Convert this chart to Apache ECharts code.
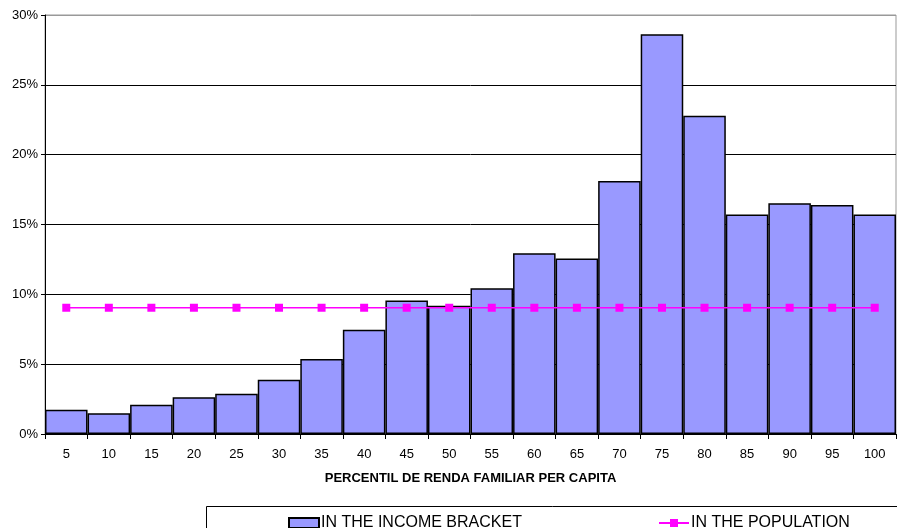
<!DOCTYPE html>
<html>
<head>
<meta charset="utf-8">
<script src="https://cdn.jsdelivr.net/npm/echarts@6/dist/echarts.min.js"></script>
<style>
  html, body { margin: 0; padding: 0; background: #fff; }
  #chart { width: 897px; height: 528px; }
</style>
</head>
<body>
<div id="chart"></div>
<script>
// Share of each income percentile bracket vs. share in the population.
const FONT = "'Liberation Sans', Arial, sans-serif";

const percentiles = ['5', '10', '15', '20', '25', '30', '35', '40', '45', '50',
  '55', '60', '65', '70', '75', '80', '85', '90', '95', '100'];
const inBracket = [1.73, 1.49, 2.09, 2.64, 2.88, 3.88, 5.37, 7.46, 9.55, 9.19,
  10.43, 12.94, 12.56, 18.11, 28.62, 22.78, 15.72, 16.53, 16.39, 15.72];
const inPopulation = [9.04, 9.04, 9.04, 9.04, 9.04, 9.04, 9.04, 9.04, 9.04, 9.04,
  9.04, 9.04, 9.04, 9.04, 9.04, 9.04, 9.04, 9.04, 9.04, 9.04];
const yTicks = ['0%', '5%', '10%', '15%', '20%', '25%', '30%'];

const BAR_NAME = 'IN THE INCOME BRACKET';
const LINE_NAME = 'IN THE POPULATION';

const chart = echarts.init(document.getElementById('chart'), null, { renderer: 'canvas' });

chart.setOption({
  animation: false,
  textStyle: { fontFamily: FONT, color: '#000' },
  grid: {
    left: 45, right: 1, top: 15, bottom: 94,
    show: true, borderColor: '#999', borderWidth: 1,
  },
  legend: [
    {
      data: [{ name: BAR_NAME, icon: 'rect' }], left: 283, top: 510,
      itemWidth: 30, itemHeight: 10, itemGap: 2,
      textStyle: { fontSize: 16, fontFamily: FONT, color: '#000', padding: [0, 0, 0, -3] },
    },
    {
      data: [LINE_NAME], left: 653, top: 510,
      itemWidth: 30, itemHeight: 10, itemGap: 2,
      textStyle: { fontSize: 16, fontFamily: FONT, color: '#000', padding: [0, 0, 0, -3] },
    },
  ],
  graphic: [{
    type: 'rect', left: 204, top: 504,
    shape: { width: 720, height: 40 },
    style: { fill: 'none', stroke: '#000', lineWidth: 1 },
    silent: true,
  }],
  xAxis: {
    type: 'category', data: percentiles,
    name: 'PERCENTIL DE RENDA FAMILIAR PER CAPITA',
    nameLocation: 'middle', nameGap: 38,
    nameTextStyle: { fontSize: 13, fontWeight: 'bold', fontFamily: FONT, color: '#000' },
    axisLine: { lineStyle: { color: '#000', width: 1 } },
    axisTick: { show: true, length: 5, lineStyle: { color: '#000' } },
    axisLabel: { fontSize: 13, margin: 14, color: '#000', fontFamily: FONT, interval: 0 },
  },
  yAxis: {
    type: 'value', min: 0, max: 30, interval: 5,
    axisLine: { show: true, lineStyle: { color: '#000', width: 1 } },
    axisTick: { show: true, length: 4, lineStyle: { color: '#000' } },
    axisLabel: {
      fontSize: 13, margin: 7, color: '#000', fontFamily: FONT,
      formatter: (v) => yTicks[Math.round(v / 5)],
    },
    splitLine: {
      lineStyle: { color: ['#000', '#000', '#000', '#000', '#000', '#000', '#999'], width: 1 },
    },
  },
  series: [
    {
      name: BAR_NAME, type: 'bar', data: inBracket,
      barCategoryGap: '0%',
      itemStyle: { color: '#9999FF', borderColor: '#000', borderWidth: 1.5 },
    },
    {
      name: LINE_NAME, type: 'line', data: inPopulation,
      symbol: 'rect', symbolSize: 8,
      lineStyle: { color: '#FF00FF', width: 1.5 },
      itemStyle: { color: '#FF00FF' },
    },
  ],
});
</script>
</body>
</html>
